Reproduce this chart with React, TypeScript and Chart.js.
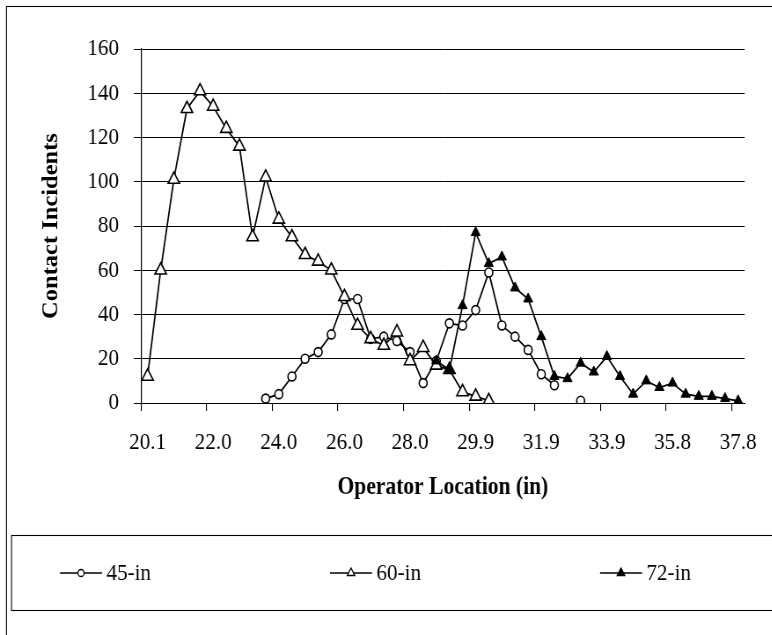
import React, { useEffect, useRef } from 'react';
import { Chart, registerables } from 'chart.js';

Chart.register(...registerables);

// Operator location categories (in), one per cm step
const categories = [
  '20.1', '20.5', '20.9', '21.3', '21.7', '22.0', '22.4', '22.8', '23.2', '23.6',
  '24.0', '24.4', '24.8', '25.2', '25.6', '26.0', '26.4', '26.8', '27.2', '27.6',
  '28.0', '28.3', '28.7', '29.1', '29.5', '29.9', '30.3', '30.7', '31.1', '31.5',
  '31.9', '32.3', '32.7', '33.1', '33.5', '33.9', '34.3', '34.6', '35.0', '35.4',
  '35.8', '36.2', '36.6', '37.0', '37.4', '37.8',
];

const series45 = [
  null, null, null, null, null, null, null, null, null, 2,
  4, 12, 20, 23, 31, 47, 47, 29, 30, 28,
  23, 9, 19, 36, 35, 42, 59, 35, 30, 24,
  13, 8, null, 1, null, null, null, null, null, null,
  null, null, null, null, null, null,
];

const series60 = [
  12, 60, 101, 133, 141, 134, 124, 116, 75, 102,
  83, 75, 67, 64, 60, 48, 35, 29, 26, 32,
  19, 25, 17, 15, 5, 3, 1, null, null, null,
  null, null, null, null, null, null, null, null, null, null,
  null, null, null, null, null, null,
];

const series72 = [
  null, null, null, null, null, null, null, null, null, null,
  null, null, null, null, null, null, null, null, null, null,
  null, null, 19, 15, 44, 77, 63, 66, 52, 47,
  30, 12, 11, 18, 14, 21, 12, 4, 10, 7,
  9, 4, 3, 3, 2, 1,
];

const seriesNames = ['45-in', '60-in', '72-in'];
const yTicks = [0, 20, 40, 60, 80, 100, 120, 140, 160];

const FONT = "'Liberation Serif', 'Times New Roman', serif";
const SX = 0.88; // horizontal squeeze of the original picture
const CW = Math.round(772 / SX);

const legendX = [60, 330, 600].map((v) => v / SX);

function drawMarker(ctx: CanvasRenderingContext2D, style: string, r: number, x: number, y: number, filled: boolean) {
  ctx.beginPath();
  if (style === 'circle') {
    ctx.arc(x, y, r, 0, Math.PI * 2);
  } else {
    ctx.moveTo(x, y - r);
    ctx.lineTo(x + r * Math.sin(Math.PI / 3), y + r * 0.5);
    ctx.lineTo(x - r * Math.sin(Math.PI / 3), y + r * 0.5);
    ctx.closePath();
  }
  ctx.fillStyle = filled ? '#000' : '#fff';
  ctx.fill();
  ctx.stroke();
}

const framePlugin = {
  id: 'frame',
  afterDraw(chart: any) {
    const ctx: CanvasRenderingContext2D = chart.ctx;
    ctx.save();
    ctx.strokeStyle = '#000';
    ctx.lineWidth = 1.1;
    ctx.strokeRect(6.5 / SX, 6.5, 1200, 900);
    ctx.strokeRect(11.5 / SX, 535.5, 1200, 75);
    ctx.font = `24px ${FONT}`;
    ctx.textBaseline = 'middle';
    ctx.textAlign = 'left';
    chart.data.datasets.forEach((ds: any, i: number) => {
      const x0 = legendX[i];
      const y = 573;
      const len = 42 / SX;
      ctx.lineWidth = 1.6;
      ctx.strokeStyle = '#000';
      ctx.beginPath();
      ctx.moveTo(x0, y);
      ctx.lineTo(x0 + len, y);
      ctx.stroke();
      ctx.lineWidth = 1.3;
      drawMarker(ctx, ds.pointStyle, ds.pointStyle === 'circle' ? 3.5 : 5, x0 + len / 2, y, ds.pointBackgroundColor === '#000');
      ctx.fillStyle = '#000';
      ctx.fillText(ds.label, x0 + len + 5, y + 1);
    });
    ctx.restore();
  },
};

export default function App() {
  const ref = useRef<HTMLCanvasElement>(null);
  useEffect(() => {
    if (!ref.current) return;
    const chart = new Chart(ref.current, {
      type: 'line',
      data: {
        labels: categories,
        datasets: [
          {
            label: seriesNames[0],
            data: series45,
            borderColor: '#000',
            borderWidth: 1.7,
            pointStyle: 'circle',
            pointRadius: 4.5,
            pointBorderWidth: 1.6,
            pointBackgroundColor: '#fff',
            pointBorderColor: '#000',
            spanGaps: false,
            order: 3,
          },
          {
            label: seriesNames[1],
            data: series60,
            borderColor: '#000',
            borderWidth: 1.7,
            pointStyle: 'triangle',
            pointRadius: 7.5,
            pointBorderWidth: 1.6,
            pointBackgroundColor: '#fff',
            pointBorderColor: '#000',
            spanGaps: false,
            order: 2,
          },
          {
            label: seriesNames[2],
            data: series72,
            borderColor: '#000',
            borderWidth: 1.7,
            pointStyle: 'triangle',
            pointRadius: 6,
            pointBorderWidth: 1,
            pointBackgroundColor: '#000',
            pointBorderColor: '#000',
            spanGaps: false,
            order: 1,
          },
        ],
      },
      options: {
        animation: false,
        responsive: false,
        devicePixelRatio: 1,
        layout: { padding: { left: 0, right: CW - 753 / SX, top: 49, bottom: 133 } },
        plugins: {
          legend: { display: false },
          tooltip: { enabled: false },
        },
        scales: {
          x: {
            type: 'category',
            offset: true,
            afterFit: (s: any) => { s.height = 99; },
            grid: {
              offset: true,
              drawOnChartArea: false,
              drawTicks: true,
              tickLength: 8,
              lineWidth: 1.1,
              color: (c: any) => (c.index % 5 === 0 ? '#000' : 'rgba(0,0,0,0)'),
            },
            border: { display: true, color: '#000', width: 1 },
            ticks: {
              autoSkip: false,
              maxRotation: 0,
              minRotation: 0,
              padding: 17,
              color: '#000',
              font: { family: FONT, size: 24 },
              callback: (_v: any, idx: number) => (idx % 5 === 0 ? categories[idx] : ''),
            },
            title: {
              display: true,
              text: 'Operator Location (in)',
              color: '#000',
              font: { family: FONT, size: 24.5, weight: 'bold' },
              padding: { top: 0, bottom: 0 },
            },
          },
          y: {
            min: 0,
            max: 160,
            afterFit: (s: any) => { s.width = 141 / SX; },
            afterBuildTicks: (s: any) => { s.ticks = yTicks.map((v) => ({ value: v })); },
            grid: {
              color: '#000',
              lineWidth: 1,
              drawTicks: true,
              tickLength: 8,
            },
            border: { display: true, color: '#000', width: 1.2 },
            ticks: {
              padding: 17,
              color: '#000',
              font: { family: FONT, size: 24 },
            },
            title: {
              display: true,
              text: 'Contact Incidents',
              color: '#000',
              font: { family: FONT, size: 24.5, weight: 'bold' },
              padding: { top: 44, bottom: 0 },
            },
          },
        },
      },
      plugins: [framePlugin],
    });
    return () => chart.destroy();
  }, []);
  return (
    <div style={{ position: 'absolute', left: 0, top: 0, width: 772, height: 635, overflow: 'hidden', background: '#fff' }}>
      <div style={{ width: CW, height: 635, transform: `scaleX(${SX})`, transformOrigin: '0 0' }}>
        <canvas ref={ref} width={CW} height={635} style={{ display: 'block' }} />
      </div>
    </div>
  );
}
